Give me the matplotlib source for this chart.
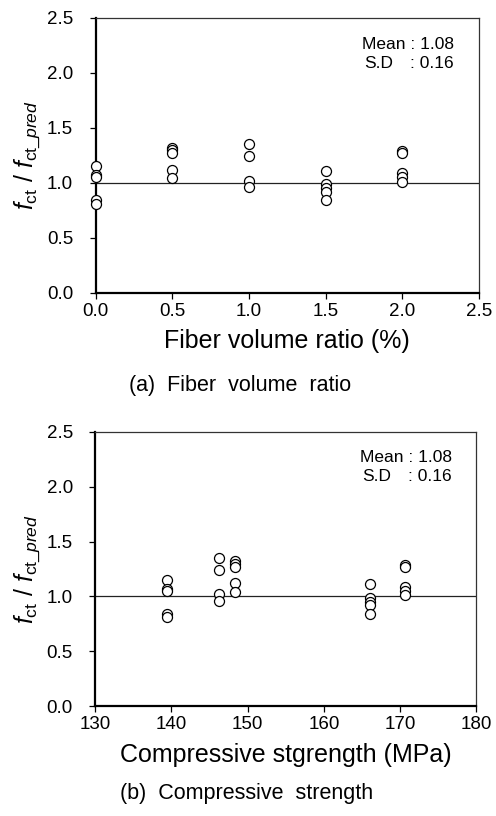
import matplotlib
matplotlib.use("Agg")
import matplotlib.pyplot as plt
import numpy as np

plt.rcParams['font.family'] = ['Liberation Sans', 'DejaVu Sans']
plt.rcParams['mathtext.fontset'] = 'custom'
plt.rcParams['mathtext.rm'] = 'Liberation Sans'
plt.rcParams['mathtext.it'] = 'Liberation Sans:italic'

# Data: ratio f_ct / f_ct_pred per group
fiber_ratio = [0.0, 0.5, 1.0, 1.5, 2.0]
comp_strength = [139.4, 148.3, 146.2, 166.0, 170.7]
ratios = [
    [1.15, 1.07, 1.05, 0.84, 0.81],
    [1.32, 1.30, 1.27, 1.12, 1.04],
    [1.35, 1.24, 1.02, 0.96],
    [1.11, 0.99, 0.95, 0.92, 0.84],
    [1.29, 1.27, 1.09, 1.05, 1.01],
]
stats_labels = ["Mean", "S.D"]
stats_values = ["1.08", "0.16"]

W, H = 496, 816
fig = plt.figure(figsize=(W / 100, H / 100), dpi=100)


def px_axes(x0, y0, x1, y1):
    return fig.add_axes([x0 / W, 1 - y1 / H, (x1 - x0) / W, (y1 - y0) / H])


ax1 = px_axes(95.7, 18, 479, 292.7)
ax2 = px_axes(95.3, 431.7, 476.3, 706.3)

ylabel = r"$f_{\mathrm{ct}}\ /\ f_{\mathrm{ct\_}\mathit{pred}}$"


def style(ax, xs, xlim, xticks, xfmt, xlabel):
    for x, ys in zip(xs, ratios):
        ax.plot([x] * len(ys), ys, linestyle='none', marker='o', markersize=7.2,
                markerfacecolor='white', markeredgecolor='black', markeredgewidth=0.9,
                zorder=3, clip_on=False)
    ax.axhline(1.0, color='#222222', linewidth=0.9, zorder=2)
    ax.set_xlim(*xlim)
    ax.set_ylim(0, 2.5)
    ax.set_xticks(xticks)
    ax.set_xticklabels([xfmt.format(t) for t in xticks])
    yt = np.arange(0, 2.51, 0.5)
    ax.set_yticks(yt)
    ax.set_yticklabels(["{:.1f}".format(t) for t in yt])
    ax.tick_params(direction='out', length=4.2, width=0.9, labelsize=13.5)
    ax.tick_params(axis='y', pad=12)
    ax.tick_params(axis='x', pad=3)
    for s in ['left', 'bottom']:
        ax.spines[s].set_linewidth(1.6)
    for s in ['top', 'right']:
        ax.spines[s].set_linewidth(0.9)
        ax.spines[s].set_color('#333333')
    ax.set_xlabel(xlabel, fontsize=18, labelpad=7)
    ax.set_ylabel(ylabel, fontsize=18)
    ax.yaxis.set_label_coords(-0.14, 0.5)
    ax.text(0.935, 0.905, stats_labels[0] + " : " + stats_values[0], transform=ax.transAxes,
            fontsize=12.5, ha='right', va='center')
    ax.text(0.935, 0.836, ": " + stats_values[1], transform=ax.transAxes,
            fontsize=12.5, ha='right', va='center')
    ax.text(0.70, 0.836, stats_labels[1], transform=ax.transAxes,
            fontsize=12.5, ha='left', va='center')


style(ax1, fiber_ratio, (0, 2.5), [0, 0.5, 1.0, 1.5, 2.0, 2.5], "{:.1f}", "Fiber volume ratio (%)")
style(ax2, comp_strength, (130, 180), [130, 140, 150, 160, 170, 180], "{:d}", "Compressive stgrength (MPa)")

fig.text(240 / W, 1 - 386 / H, "(a)  Fiber  volume  ratio", fontsize=15.5, ha='center', va='center')
fig.text(247 / W, 1 - 793 / H, "(b)  Compressive  strength", fontsize=15.5, ha='center', va='center')

fig.savefig("out.png", dpi=100)
